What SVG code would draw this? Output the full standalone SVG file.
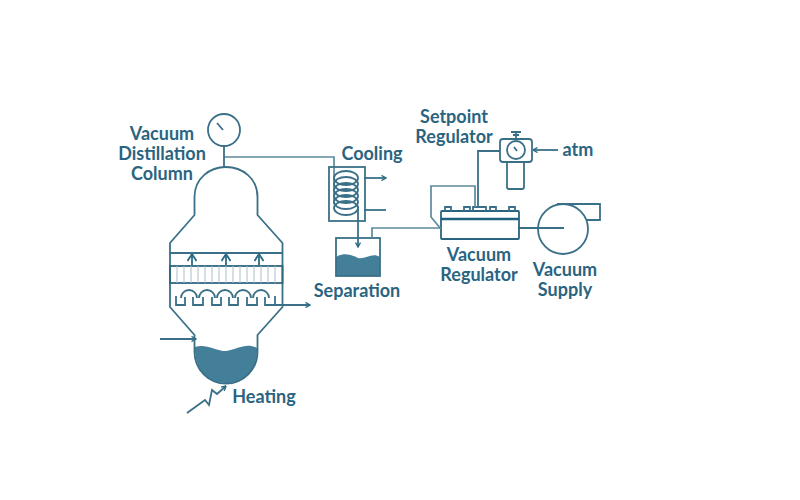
<svg xmlns="http://www.w3.org/2000/svg" width="800" height="500" viewBox="0 0 800 500">
<defs>
<marker id="ah" viewBox="0 0 6 6" refX="5.500" refY="3" markerWidth="6" markerHeight="6" markerUnits="userSpaceOnUse" orient="auto"><path d="M1 .5L5.500 3L1 5.500" fill="none" stroke="#2b6a85" stroke-width="1.400"/></marker>
<marker id="ab" viewBox="0 0 10 10" refX="9" refY="5" markerWidth="10" markerHeight="10" markerUnits="userSpaceOnUse" orient="auto"><path d="M2 .5L9 5L2 9.500" fill="none" stroke="#2b6a85" stroke-width="1.800"/></marker>
</defs>
<style>
.s{fill:none;stroke:#3a7087;stroke-width:1.800}
.d{fill:none;stroke:#2b6a85;stroke-width:1.800}
.p{fill:none;stroke:#5d8a9b;stroke-width:1.700}
.a{marker-end:url(#ah)}
.b{marker-end:url(#ab)}
.l{fill:#447f99;stroke:none}
.t{font-family:Lato,"Liberation Sans",sans-serif;font-size:18px;font-weight:700;fill:#2a6480;text-anchor:middle}
</style>
<rect width="800" height="500" fill="#fff"/>
<g id="connectors">
<path class="p" d="M224 157H334V204"/>
<path class="s a" d="M358 206V247"/>
<path class="p" d="M372 237V228H441"/>
<path class="s a" d="M364 178H386"/>
<path class="s" d="M364 210H386"/>
<path class="s a" d="M160 339H196"/>
<path class="s a" d="M272 305H310"/>
<path class="s a" d="M187 413L205 400L209 405L212 390L217 394L226 386"/>
<path class="s" d="M478 208V151H500"/>
<path class="s a" d="M558 150H533"/>
<path class="s" d="M518 228H564"/>
</g>
<g id="gauge">
<circle class="s" cx="224" cy="130" r="16"/>
<path class="s" d="M217 123L223 130M224 146V167"/>
</g>
<g id="column">
<path class="l" d="M195 347C205 343 216 351 226 351C236 350 246 342 257 348C258 370 244 383 226 383C208 383 194 370 195 347Z"/>
<path class="s" d="M194.500 197C194.500 178 210 167 226 167C242 167 257.500 178 257.500 197V215L282.500 243V307L257.500 335V352A31.500 31.500 0 0 1 194.500 352V335L170 307V243L194.500 215Z"/>
<path class="s" d="M170 253H282.500"/>
<rect x="170" y="266" width="112.500" height="17" fill="none" stroke="#2f6780" stroke-width="1.800"/>
<path stroke="#a9c0ca" stroke-width="1" d="M177 266V283M184 266V283M191 266V283M198 266V283M205 266V283M212 266V283M219 266V283M226 266V283M233 266V283M240 266V283M247 266V283M254 266V283M261 266V283M268 266V283M275 266V283"/>
<path class="d b" d="M192 265V254"/><path class="d b" d="M226 265V254"/><path class="d b" d="M259 265V254"/>
<path class="s" d="M176 296V305H185V297M193 297V305H203V297M212 297V305H221V297M229 297V305H238V297M247 297V305H257V297M265 297V305H275V296"/>
<path class="s" d="M181 298A8 8 0 0 1 197 298M199 298A8 8 0 0 1 215 298M217 298A8 8 0 0 1 233 298M235 298A8 8 0 0 1 251 298M253 298A8 8 0 0 1 269 298"/>
</g>
<g id="cooling">
<rect class="s" x="329" y="167" width="36" height="54"/>
<g class="s">
<ellipse cx="346" cy="178" rx="12" ry="7"/><ellipse cx="346" cy="184" rx="12" ry="7"/><ellipse cx="346" cy="190" rx="12" ry="7"/><ellipse cx="346" cy="196" rx="12" ry="7"/><ellipse cx="346" cy="202" rx="12" ry="7"/><ellipse cx="346" cy="208" rx="12" ry="7"/>
</g>
</g>
<g id="separation">
<path class="l" d="M336 257C344 252 352 255 358 258C365 260 372 252 380 257V276H336Z"/>
<rect class="s" x="336" y="238" width="44" height="38"/>
</g>
<g id="regulator">
<rect x="441" y="211" width="78" height="28" rx="1" fill="none" stroke="#2a6480" stroke-width="1.800"/>
<path stroke="#1f5f7d" stroke-width="2.500" d="M441 219H519"/>
<path class="s" d="M445 211V207H451V211M464 211V207H470V211M473 211V207H486V211M490 211V207H496V211M509 211V207H515V211"/>
<path class="p" d="M441 229L431 217V186H475V207"/>
</g>
<g id="setpoint">
<rect class="s" x="500" y="139" width="32" height="23" rx="3"/>
<circle class="s" cx="516" cy="150" r="9"/>
<path class="s" d="M514 147L517 151M516 139V133M511 132H521M513 135H519"/>
<path class="s" d="M507 162V187Q507 189 509 189H522Q524 189 524 187V162"/>
</g>
<g id="pump">
<circle class="s" cx="563" cy="229" r="25"/>
<path class="s" d="M557 204H600V220H587"/>
</g>
<g id="labels">
<text class="t" x="162" y="140">Vacuum</text>
<text class="t" x="162" y="160">Distillation</text>
<text class="t" x="162" y="180">Column</text>
<text class="t" x="372" y="160">Cooling</text>
<text class="t" x="454" y="123">Setpoint</text>
<text class="t" x="454" y="143">Regulator</text>
<text class="t" x="578" y="156">atm</text>
<text class="t" x="479" y="261">Vacuum</text>
<text class="t" x="479" y="281">Regulator</text>
<text class="t" x="565" y="276">Vacuum</text>
<text class="t" x="565" y="296">Supply</text>
<text class="t" x="357" y="297">Separation</text>
<text class="t" x="264" y="403">Heating</text>
</g>
</svg>
